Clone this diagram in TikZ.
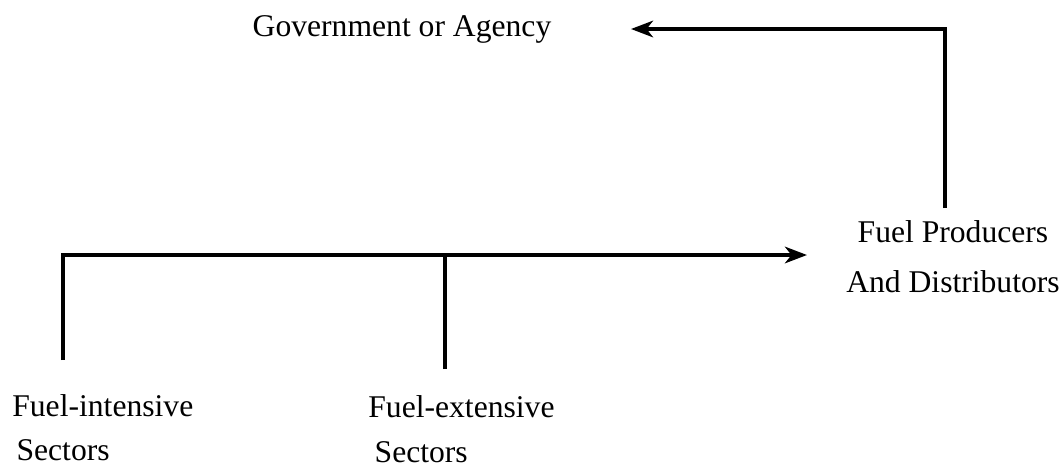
\documentclass[tikz,border=0pt]{standalone}
\usepackage{fontspec}
\setmainfont{Liberation Serif}
\usetikzlibrary{arrows.meta}
\tikzset{
	label/.style={inner sep=0pt, font=\fontsize{18}{25}\selectfont},
	flow/.style={line width=2.3pt, -{Stealth[length=4.4mm, width=3.3mm, inset=1.3mm]}},
	bar/.style={line width=2.3pt}
}
\begin{document}
\begin{tikzpicture}[x=0.02cm, y=-0.02cm]
				\useasboundingbox (0,0) rectangle (1062,464);
				%Labels
				\node [label, anchor=base] (gov) at (402,36) {Government or Agency};
				\node [label, anchor=north, align=center, font=\fontsize{18}{28.4}\selectfont] (prod) at (953,220) {Fuel Producers\\And Distributors};
				\node [label, anchor=north west, align=left] (intens) at (12,394) {Fuel-intensive\\\hspace*{6\pgflinewidth}Sectors};
				\node [label, anchor=north west, align=left, font=\fontsize{18}{25.5}\selectfont] (extens) at (368,395) {Fuel-extensive\\\hspace*{9\pgflinewidth}Sectors};
				%Free ends of the connectors
				\coordinate (intensTop) at (63,360);
				\coordinate (extensTop) at (445,369);
				\coordinate (extensJoin) at (445,253);
				\coordinate (prodIn) at (807,255);
				\coordinate (prodOut) at (945,208);
				\coordinate (govIn) at (631,29);
				%Sectors to producers
				\draw [flow] (intensTop) |- (prodIn);
				\draw [bar] (extensTop) -- (extensJoin);
				%Producers to government
				\draw [flow] (prodOut) |- (govIn);
\end{tikzpicture}
\end{document}
